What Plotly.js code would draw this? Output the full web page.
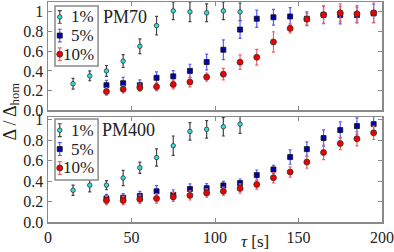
<!DOCTYPE html>
<html>
<head>
<meta charset="utf-8">
<script src="https://cdn.plot.ly/plotly-3.0.1.min.js"></script>
<style>html,body{margin:0;padding:0;background:#fff;}#chart{width:394px;height:252px;}</style>
</head>
<body>
<div id="chart"></div>
<script>
// tau [s]
const tau1 = [15, 25, 35, 45, 55, 65, 75, 85, 95, 105, 115];
const tau510 = [35, 45, 55, 65, 75, 85, 95, 105, 115, 125, 135, 145, 155, 165, 175, 185, 195];

// PM70 panel
const pm70_1 = [0.27, 0.35, 0.40, 0.50, 0.65, 0.86, 1.01, 1.00, 0.99, 1.01, 1.00];
const pm70_1_err = [0.055, 0.05, 0.055, 0.065, 0.075, 0.095, 0.09, 0.10, 0.09, 0.09, 0.09];
const pm70_5 = [0.255, 0.275, 0.255, 0.33, 0.345, 0.40, 0.49, 0.615, 0.82, 0.93, 0.945, 0.953, 0.93, 0.97, 0.967, 0.967, 0.984];
const pm70_5_err = [0.05, 0.06, 0.055, 0.06, 0.058, 0.068, 0.08, 0.10, 0.09, 0.087, 0.08, 0.09, 0.07, 0.09, 0.09, 0.08, 0.093];
const pm70_10 = [0.19, 0.215, 0.23, 0.24, 0.262, 0.287, 0.337, 0.367, 0.489, 0.539, 0.694, 0.832, 0.926, 0.97, 0.99, 0.98, 0.99];
const pm70_10_err = [0.037, 0.037, 0.035, 0.04, 0.045, 0.05, 0.042, 0.058, 0.074, 0.08, 0.104, 0.045, 0.058, 0.087, 0.09, 0.084, 0.1];

// PM400 panel
const pm400_1 = [0.31, 0.36, 0.36, 0.43, 0.53, 0.63, 0.745, 0.885, 0.905, 0.93, 0.955];
const pm400_1_err = [0.05, 0.065, 0.045, 0.075, 0.055, 0.085, 0.095, 0.085, 0.085, 0.09, 0.09];
const pm400_5 = [0.23, 0.237, 0.255, 0.30, 0.265, 0.322, 0.33, 0.357, 0.38, 0.458, 0.513, 0.634, 0.712, 0.82, 0.898, 0.937, 0.956];
const pm400_5_err = [0.04, 0.04, 0.045, 0.055, 0.05, 0.05, 0.045, 0.04, 0.04, 0.05, 0.04, 0.07, 0.07, 0.08, 0.08, 0.08, 0.08];
const pm400_10 = [0.21, 0.21, 0.222, 0.23, 0.245, 0.26, 0.283, 0.30, 0.328, 0.367, 0.432, 0.488, 0.585, 0.679, 0.767, 0.813, 0.871];
const pm400_10_err = [0.04, 0.04, 0.04, 0.045, 0.045, 0.045, 0.04, 0.04, 0.045, 0.045, 0.05, 0.05, 0.06, 0.07, 0.06, 0.07, 0.065];

const labels = ["1%", "5%", "10%"];
const panelNames = ["PM70", "PM400"];
const yTickVals = [0, 0.2, 0.4, 0.6, 0.8, 1.0];
const yTickText = ["0.0", "0.2", "0.4", "0.6", "0.8", "1"];
const xTickVals = [0, 50, 100, 150, 200];

const FONT = "Liberation Serif";
const FRAME = "#8a8a8a";
const TXT = "#222222";

const styles = [
  {sym: "circle", size: 4.5, color: "#33dddd", line: "#333", ecol: "#444444"},
  {sym: "square", size: 5, color: "#0000aa", line: "#111", ecol: "#5a5aff"},
  {sym: "circle", size: 6, color: "#ee0000", line: "#333", ecol: "#f06060"}
];

function series(x, y, err, idx, xa, ya) {
  const s = styles[idx];
  return {
    x: x, y: y, xaxis: xa, yaxis: ya, type: "scatter", mode: "markers",
    name: labels[idx], showlegend: false, cliponaxis: false,
    marker: {symbol: s.sym, size: s.size, color: s.color, line: {color: s.line, width: 0.8}},
    error_y: {type: "data", array: err, visible: true, color: s.ecol, thickness: 1.2, width: 1.5}
  };
}

// legend glyphs (one per label) on small helper axes laid over each legend box
function legendGlyph(idx, xa, ya) {
  const s = styles[idx];
  return {
    x: [0.11], y: [idx], xaxis: xa, yaxis: ya, type: "scatter", mode: "markers",
    showlegend: false, hoverinfo: "skip", cliponaxis: false,
    marker: {symbol: s.sym, size: s.size, color: s.color, line: {color: s.line, width: 0.8}},
    error_y: {type: "constant", value: 0.34, visible: true, color: s.ecol, thickness: 1.2, width: 2}
  };
}

const data = [
  series(tau1, pm70_1, pm70_1_err, 0, "x", "y"),
  series(tau510, pm70_5, pm70_5_err, 1, "x", "y"),
  series(tau510, pm70_10, pm70_10_err, 2, "x", "y"),
  series(tau1, pm400_1, pm400_1_err, 0, "x2", "y2"),
  series(tau510, pm400_5, pm400_5_err, 1, "x2", "y2"),
  series(tau510, pm400_10, pm400_10_err, 2, "x2", "y2")
];
labels.forEach((l, i) => { data.push(legendGlyph(i, "x3", "y3")); data.push(legendGlyph(i, "x4", "y4")); });

const axBase = {
  showline: true, linecolor: FRAME, linewidth: 1.5, mirror: "ticks",
  ticks: "inside", ticklen: 4, tickcolor: FRAME, tickwidth: 1,
  showgrid: false, zeroline: false,
  tickfont: {family: FONT, size: 16, color: TXT}
};
const legAx = {visible: false, showgrid: false, zeroline: false, fixedrange: true};

const annotations = [
  {text: panelNames[0], xref: "paper", yref: "paper", x: 0.23, y: 0.932, xanchor: "center", yanchor: "middle", showarrow: false, font: {family: FONT, size: 18, color: TXT}},
  {text: panelNames[1], xref: "paper", yref: "paper", x: 0.24, y: 0.42, xanchor: "center", yanchor: "middle", showarrow: false, font: {family: FONT, size: 18, color: TXT}},
  {text: "Δ / Δ<sub>hom</sub>", xref: "paper", yref: "paper", x: -0.112, y: 0.5, xanchor: "center", yanchor: "middle", textangle: -90, showarrow: false, font: {family: FONT, size: 18, color: TXT}},
  {text: "<i>τ</i> [s]", xref: "paper", yref: "paper", x: 0.62, y: -0.088, xanchor: "center", yanchor: "middle", showarrow: false, font: {family: FONT, size: 17, color: TXT}}
];
labels.forEach((l, i) => {
  ["3", "4"].forEach(k => {
    annotations.push({text: l, xref: "x" + k, yref: "y" + k, x: 0.95, y: i, xanchor: "right", yanchor: "middle", showarrow: false, font: {family: FONT, size: 17, color: TXT}});
  });
});

const layout = {
  width: 394, height: 252,
  margin: {l: 48, r: 12, t: 2, b: 30},
  paper_bgcolor: "#ffffff", plot_bgcolor: "#ffffff",
  font: {family: FONT, size: 16, color: TXT},
  showlegend: false,
  xaxis: Object.assign({}, axBase, {domain: [0, 1], range: [0, 200], tickvals: xTickVals, showticklabels: false, anchor: "y"}),
  yaxis: Object.assign({}, axBase, {domain: [0.5077, 1], range: [0, 1.1], tickvals: yTickVals, ticktext: yTickText, anchor: "x"}),
  xaxis2: Object.assign({}, axBase, {domain: [0, 1], range: [0, 200], tickvals: xTickVals, anchor: "y2"}),
  yaxis2: Object.assign({}, axBase, {domain: [0, 0.477], range: [0, 1.025], tickvals: yTickVals, ticktext: yTickText, anchor: "x2"}),
  xaxis3: Object.assign({}, legAx, {domain: [0.021, 0.150], range: [0, 1], anchor: "y3"}),
  yaxis3: Object.assign({}, legAx, {domain: [0.709, 0.982], range: [2.636, -0.59], anchor: "x3"}),
  xaxis4: Object.assign({}, legAx, {domain: [0.021, 0.150], range: [0, 1], anchor: "y4"}),
  yaxis4: Object.assign({}, legAx, {domain: [0.191, 0.468], range: [2.636, -0.59], anchor: "x4"}),
  shapes: [
    {type: "rect", xref: "x3 domain", yref: "y3 domain", x0: 0, x1: 1, y0: 0, y1: 1, line: {color: FRAME, width: 1.5}, fillcolor: "rgba(255,255,255,0)", layer: "above"},
    {type: "rect", xref: "x4 domain", yref: "y4 domain", x0: 0, x1: 1, y0: 0, y1: 1, line: {color: FRAME, width: 1.5}, fillcolor: "rgba(255,255,255,0)", layer: "above"}
  ],
  annotations: annotations
};

Plotly.newPlot("chart", data, layout, {displayModeBar: false, staticPlot: true});
</script>
</body>
</html>
